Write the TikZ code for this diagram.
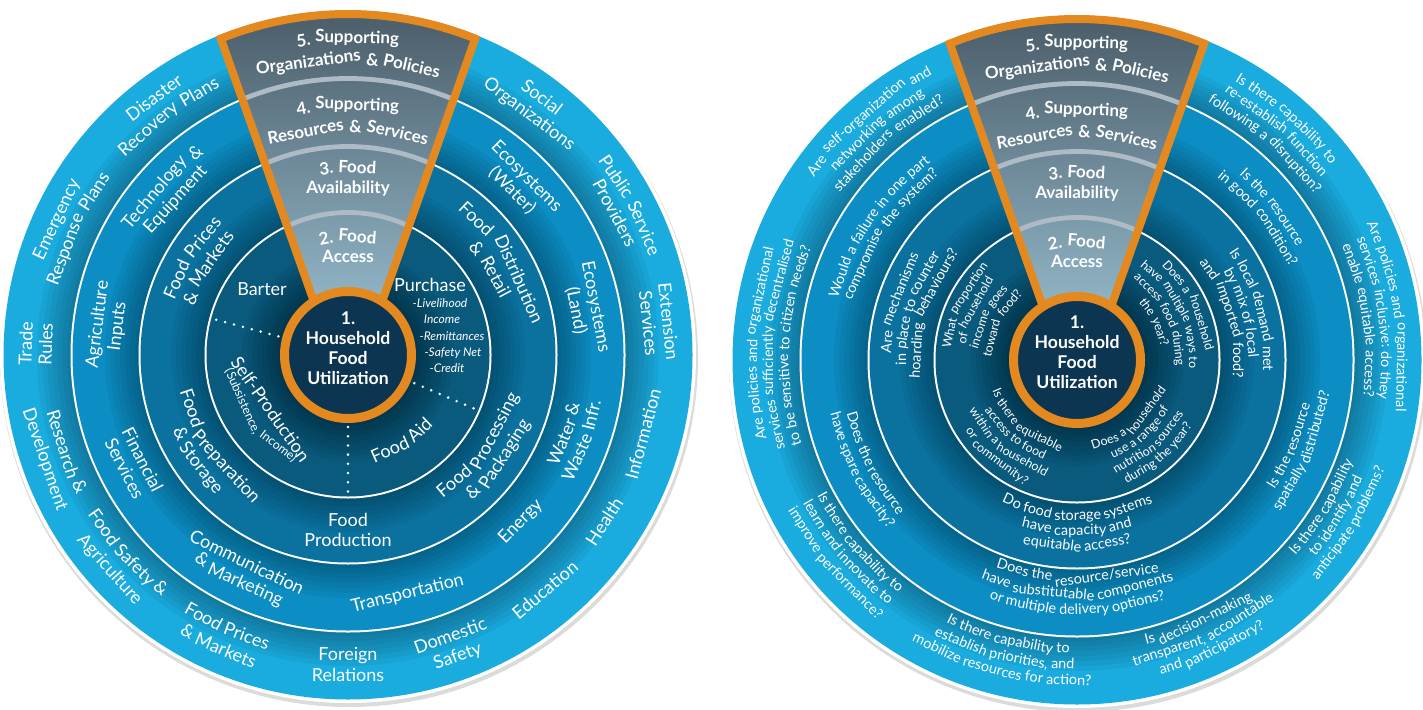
\documentclass[tikz,border=0pt]{standalone}
\usepackage{fontspec}
\setmainfont{Lato}
\usetikzlibrary{positioning}

\definecolor{ringfive}{HTML}{1AABDF}
\definecolor{ringfour}{HTML}{0C8DC3}
\definecolor{ringthree}{HTML}{0B72A0}
\definecolor{ringtwo}{HTML}{0A5A7E}
\definecolor{corecol}{HTML}{0B3550}
\definecolor{wedgetop}{HTML}{4A5C68}
\definecolor{wedgebot}{HTML}{A8D2E5}
\definecolor{wedgesep}{HTML}{AEBBC4}
\definecolor{foodorange}{HTML}{E3891F}

\font\labfont="Lato" at 9pt
\font\subfont="Lato" at 6.2pt
\font\qfont="Lato" at 7.2pt
\font\qsfont="Lato" at 6.2pt
\font\headfont="Lato/B" at 8.5pt

% words set round a hub: #1 hub, #2 angle, #3 radius, #4 1 = tops out / -1 = tops in, #5 font, #6 text
\makeatletter
\newdimen\arc@total \newdimen\arc@space \newdimen\arc@w \newdimen\arc@cum
\newcounter{arcword}
\newcommand{\arctext}[6]{%
  \def\arc@hub{#1}\def\arc@ang{#2}\def\arc@rad{#3}\def\arc@sgn{#4}\def\arc@font{#5}%
  \setbox0\hbox{\frenchspacing#5#6}\arc@total=\wd0\relax
  \setbox0\hbox{#5\ }\arc@space=\wd0\relax
  \arc@cum=0pt\relax
  \arc@words#6 \@nil}
\def\arc@words#1 #2\@nil{%
  \arc@place{#1}%
  \if\relax\detokenize{#2}\relax\else\arc@words#2\@nil\fi}
\def\arc@place#1{%
  \setbox0\hbox{\arc@font#1}\arc@w=\wd0\relax
  \pgfmathsetmacro\arc@theta{\arc@ang-(\arc@sgn)*(\the\arc@cum+0.5*\the\arc@w-0.5*\the\arc@total)*114.59156/\arc@rad}%
  \pgfmathsetmacro\arc@rot{\arc@theta-(\arc@sgn)*90}%
  \stepcounter{arcword}%
  \node[arcword,font=\arc@font,rotate=\arc@rot] (aw\arabic{arcword})
    at ([shift={(\arc@theta:\arc@rad)}]\arc@hub) {#1};
  \advance\arc@cum by\arc@w
  \advance\arc@cum by\arc@space}
\makeatother
\newcommand{\cwlab}[5][\labfont]{\arctext{#2}{#3}{#4}{1}{#1}{#5}}
\newcommand{\ccwlab}[5][\labfont]{\arctext{#2}{#3}{#4}{-1}{#1}{#5}}

% rings, wedge and core of one wheel
\newcommand{\wheel}[1]{%
  \fill[black!14] ([shift={(1,-3)}]#1) circle[radius=349];
  \fill[white] (#1) circle[radius=348];
  \fill[ringfive] (#1) circle[radius=344.5];
  \foreach \k in {1,...,7} {\fill[black,opacity=.045] (#1) circle[radius=276+5*\k];}
  \fill[white] (#1) circle[radius=277.5];
  \fill[ringfour] (#1) circle[radius=275.5];
  \foreach \k in {1,...,7} {\fill[black,opacity=.045] (#1) circle[radius=208+5*\k];}
  \fill[white] (#1) circle[radius=209.5];
  \fill[ringthree] (#1) circle[radius=207.5];
  \foreach \k in {1,...,7} {\fill[black,opacity=.045] (#1) circle[radius=142+5*\k];}
  \fill[white] (#1) circle[radius=143.5];
  \fill[ringtwo] (#1) circle[radius=141.5];
  \foreach \k in {1,...,8} {\fill[black,opacity=.05] (#1) circle[radius=66+5*\k];}
  \begin{scope}
    \clip ([shift={(0,-43)}]#1) -- ([shift={(68.1:341)}]#1)
      arc[start angle=68.1,end angle=111.9,radius=341] -- cycle;
    \shade[top color=wedgetop,bottom color=wedgebot]
      ([shift={(-140,-45)}]#1) rectangle ([shift={(140,346)}]#1);
    \foreach \rad in {142.5,208.5,276.5} {\draw[wedgesep,line width=2.4pt] (#1) circle[radius=\rad];}
  \end{scope}
  \draw[foodorange,line width=4pt,line join=miter] ([shift={(0,-43)}]#1) -- ([shift={(68.1:341)}]#1)
    arc[start angle=68.1,end angle=111.9,radius=341] -- cycle;
  \fill[corecol] (#1) circle[radius=63.5];
  \draw[foodorange,line width=4.5pt] (#1) circle[radius=63.5];
}

\begin{document}
\begin{tikzpicture}[
    x=0.5pt,y=0.5pt,node distance=2.2pt,
    arcword/.style={text=white,anchor=base,inner sep=0pt},
    lab/.style={text=white,font=\labfont,inner sep=0pt},
    itemlab/.style={text=white,font=\fontsize{6}{7}\selectfont\itshape,inner sep=0pt,text height=4.4pt,text depth=1.2pt},
    corelab/.style={text=white,font=\fontsize{8.8}{10}\selectfont\bfseries,align=center,inner sep=0pt},
    dotline/.style={white,line width=1.4pt,line cap=round,dash pattern=on 0pt off 4.6pt},
    ]
    \useasboundingbox (0,0) rectangle (1423,709);
    \coordinate (lhub) at (348,354);
    \coordinate (rhub) at (1077,349);

    % Wheels
    \wheel{lhub}
    \wheel{rhub}

    % Wedge titles
    \foreach \hub in {lhub,rhub} {
        \cwlab[\headfont]{\hub}{90}{312}{5. Supporting}
        \cwlab[\headfont]{\hub}{90}{290}{Organizations \& Policies}
        \cwlab[\headfont]{\hub}{90}{245}{4. Supporting}
        \cwlab[\headfont]{\hub}{90}{222}{Resources \& Services}
        \cwlab[\headfont]{\hub}{90}{182}{3. Food}
        \cwlab[\headfont]{\hub}{90}{162}{Availability}
        \cwlab[\headfont]{\hub}{90}{113}{2. Food}
        \cwlab[\headfont]{\hub}{90}{93}{Access}
    }
    \node[corelab] (lcore) at ([yshift=3.5pt]lhub) {1.\\Household\\Food\\Utilization};
    \node[corelab] (rcore) at ([yshift=4pt]rhub) {1.\\Household\\Food\\Utilization};

    % Left wheel, ring 2
    \node[lab] (barter) at (262,420) {Barter};
    \node[lab] (purchase) at (430,424) {Purchase};
    \node[itemlab] (lst1) at (440,405) {-Livelihood};
    \node[itemlab] (lst2) [below=of lst1,xshift=1pt] {Income};
    \node[itemlab] (lst3) [below=of lst2,xshift=5pt] {-Remittances};
    \node[itemlab] (lst4) [below=of lst3,xshift=0.5pt] {-Safety Net};
    \node[itemlab] (lst5) [below=of lst4,xshift=-3pt] {-Credit};
    \ccwlab{lhub}{215}{101}{Self-Production}
    \ccwlab[\subfont]{lhub}{215}{119}{(Subsistence, Income)}
    \ccwlab{lhub}{302}{110}{Food Aid}
    \draw[dotline] ([shift={(165:72)}]lhub) -- ([shift={(165:137)}]lhub);
    \draw[dotline] ([shift={(270:72)}]lhub) -- ([shift={(270:137)}]lhub);
    \draw[dotline] ([shift={(337:72)}]lhub) -- ([shift={(337:137)}]lhub);

    % Left wheel, ring 3
    \cwlab{lhub}{148}{181}{Food Prices}
    \cwlab{lhub}{148}{161}{\& Markets}
    \ccwlab{lhub}{215}{171}{Food Preparation}
    \ccwlab{lhub}{215}{191}{\& Storage}
    \ccwlab{lhub}{270}{171}{Food}
    \ccwlab{lhub}{270}{191}{Production}
    \ccwlab{lhub}{325}{171}{Food Processing}
    \ccwlab{lhub}{325}{191}{\& Packaging}
    \cwlab{lhub}{31}{181}{Food Distribution}
    \cwlab{lhub}{31}{161}{\& Retail}

    % Left wheel, ring 4
    \cwlab{lhub}{138}{247}{Technology \&}
    \cwlab{lhub}{138}{227}{Equipment}
    \cwlab{lhub}{173}{247}{Agriculture}
    \cwlab{lhub}{173}{227}{Inputs}
    \ccwlab{lhub}{207}{237}{Financial}
    \ccwlab{lhub}{207}{257}{Services}
    \ccwlab{lhub}{244}{237}{Communication}
    \ccwlab{lhub}{244}{257}{\& Marketing}
    \ccwlab{lhub}{284}{251}{Transportation}
    \ccwlab{lhub}{316}{245}{Energy}
    \ccwlab{lhub}{340}{237}{Water \&}
    \ccwlab{lhub}{340}{257}{Waste Infr.}
    \cwlab{lhub}{11}{247}{Ecosystems}
    \cwlab{lhub}{11}{227}{(Land)}
    \cwlab{lhub}{45}{247}{Ecosystems}
    \cwlab{lhub}{45}{227}{(Water)}

    % Left wheel, ring 5
    \cwlab{lhub}{127}{316}{Disaster}
    \cwlab{lhub}{127}{296}{Recovery Plans}
    \cwlab{lhub}{155}{316}{Emergency}
    \cwlab{lhub}{155}{296}{Response Plans}
    \cwlab{lhub}{178}{316}{Trade}
    \cwlab{lhub}{178}{296}{Rules}
    \ccwlab{lhub}{199}{305}{Research \&}
    \ccwlab{lhub}{199}{326}{Development}
    \ccwlab{lhub}{222}{305}{Food Safety \&}
    \ccwlab{lhub}{222}{326}{Agriculture}
    \ccwlab{lhub}{246}{305}{Food Prices}
    \ccwlab{lhub}{246}{326}{\& Markets}
    \ccwlab{lhub}{270}{305}{Foreign}
    \ccwlab{lhub}{270}{326}{Relations}
    \ccwlab{lhub}{290}{305}{Domestic}
    \ccwlab{lhub}{290}{326}{Safety}
    \ccwlab{lhub}{310}{313}{Education}
    \ccwlab{lhub}{327}{312}{Health}
    \ccwlab{lhub}{345}{312}{Information}
    \cwlab{lhub}{6}{316}{Extension}
    \cwlab{lhub}{6}{296}{Services}
    \cwlab{lhub}{28}{316}{Public Service}
    \cwlab{lhub}{28}{296}{Providers}
    \cwlab{lhub}{53}{316}{Social}
    \cwlab{lhub}{53}{296}{Organizations}

    % Right wheel, ring 2
    \cwlab[\qsfont]{rhub}{154}{126}{What proportion}
    \cwlab[\qsfont]{rhub}{154}{112}{of household}
    \cwlab[\qsfont]{rhub}{154}{98}{income goes}
    \cwlab[\qsfont]{rhub}{154}{84}{toward food?}
    \cwlab[\qsfont]{rhub}{26}{126}{Does a household}
    \cwlab[\qsfont]{rhub}{26}{112}{have multiple ways to}
    \cwlab[\qsfont]{rhub}{26}{98}{access food during}
    \cwlab[\qsfont]{rhub}{26}{84}{the year?}
    \ccwlab[\qsfont]{rhub}{230}{90}{Is there equitable}
    \ccwlab[\qsfont]{rhub}{230}{104}{access to food}
    \ccwlab[\qsfont]{rhub}{230}{118}{within a household}
    \ccwlab[\qsfont]{rhub}{230}{132}{or community?}
    \ccwlab[\qsfont]{rhub}{311}{90}{Does a household}
    \ccwlab[\qsfont]{rhub}{311}{104}{use a range of}
    \ccwlab[\qsfont]{rhub}{311}{118}{nutrition sources}
    \ccwlab[\qsfont]{rhub}{311}{132}{during the year?}

    % Right wheel, ring 3
    \cwlab[\qfont]{rhub}{162}{186}{Are mechanisms}
    \cwlab[\qfont]{rhub}{162}{171}{in place to counter}
    \cwlab[\qfont]{rhub}{162}{156}{hoarding behaviours?}
    \cwlab[\qfont]{rhub}{16}{186}{Is local demand met}
    \cwlab[\qfont]{rhub}{16}{171}{by mix of local}
    \cwlab[\qfont]{rhub}{16}{156}{and imported food?}
    \ccwlab[\qfont]{rhub}{270}{160}{Do food storage systems}
    \ccwlab[\qfont]{rhub}{270}{175}{have capacity and}
    \ccwlab[\qfont]{rhub}{270}{190}{equitable access?}

    % Right wheel, ring 4
    \cwlab[\qfont]{rhub}{146}{246}{Would a failure in one part}
    \cwlab[\qfont]{rhub}{146}{230}{compromise the system?}
    \cwlab[\qfont]{rhub}{38}{246}{Is the resource}
    \cwlab[\qfont]{rhub}{38}{230}{in good condition?}
    \ccwlab[\qfont]{rhub}{338}{236}{Is the resource}
    \ccwlab[\qfont]{rhub}{338}{252}{spatially distributed?}
    \ccwlab[\qfont]{rhub}{207}{236}{Does the resource}
    \ccwlab[\qfont]{rhub}{207}{252}{have spare capacity?}
    \ccwlab[\qfont]{rhub}{270}{222}{Does the resource/service}
    \ccwlab[\qfont]{rhub}{270}{238}{have substitutable components}
    \ccwlab[\qfont]{rhub}{270}{254}{or multiple delivery options?}

    % Right wheel, ring 5
    \cwlab[\qfont]{rhub}{131}{320}{Are self-organization and}
    \cwlab[\qfont]{rhub}{131}{304}{networking among}
    \cwlab[\qfont]{rhub}{131}{288}{stakeholders enabled?}
    \cwlab[\qfont]{rhub}{49}{320}{Is there capability to}
    \cwlab[\qfont]{rhub}{49}{304}{re-establish function}
    \cwlab[\qfont]{rhub}{49}{288}{following a disruption?}
    \cwlab[\qfont]{rhub}{8}{320}{Are policies and organizational}
    \cwlab[\qfont]{rhub}{8}{304}{services inclusive: do they}
    \cwlab[\qfont]{rhub}{8}{288}{enable equitable access?}
    \ccwlab[\qfont]{rhub}{329}{293}{Is there capability}
    \ccwlab[\qfont]{rhub}{329}{309}{to identify and}
    \ccwlab[\qfont]{rhub}{329}{325}{anticipate problems?}
    \ccwlab[\qfont]{rhub}{295}{293}{Is decision-making}
    \ccwlab[\qfont]{rhub}{295}{309}{transparent, accountable}
    \ccwlab[\qfont]{rhub}{295}{325}{and participatory?}
    \ccwlab[\qfont]{rhub}{256}{293}{Is there capability to}
    \ccwlab[\qfont]{rhub}{256}{309}{establish priorities, and}
    \ccwlab[\qfont]{rhub}{256}{325}{mobilize resources for action?}
    \ccwlab[\qfont]{rhub}{220}{293}{Is there capability to}
    \ccwlab[\qfont]{rhub}{220}{309}{learn and innovate to}
    \ccwlab[\qfont]{rhub}{220}{325}{improve performance?}
    \cwlab[\qfont]{rhub}{177}{320}{Are policies and organizational}
    \cwlab[\qfont]{rhub}{177}{304}{services sufficiently decentralised}
    \cwlab[\qfont]{rhub}{177}{288}{to be sensitive to citizen needs?}
\end{tikzpicture}
\end{document}
